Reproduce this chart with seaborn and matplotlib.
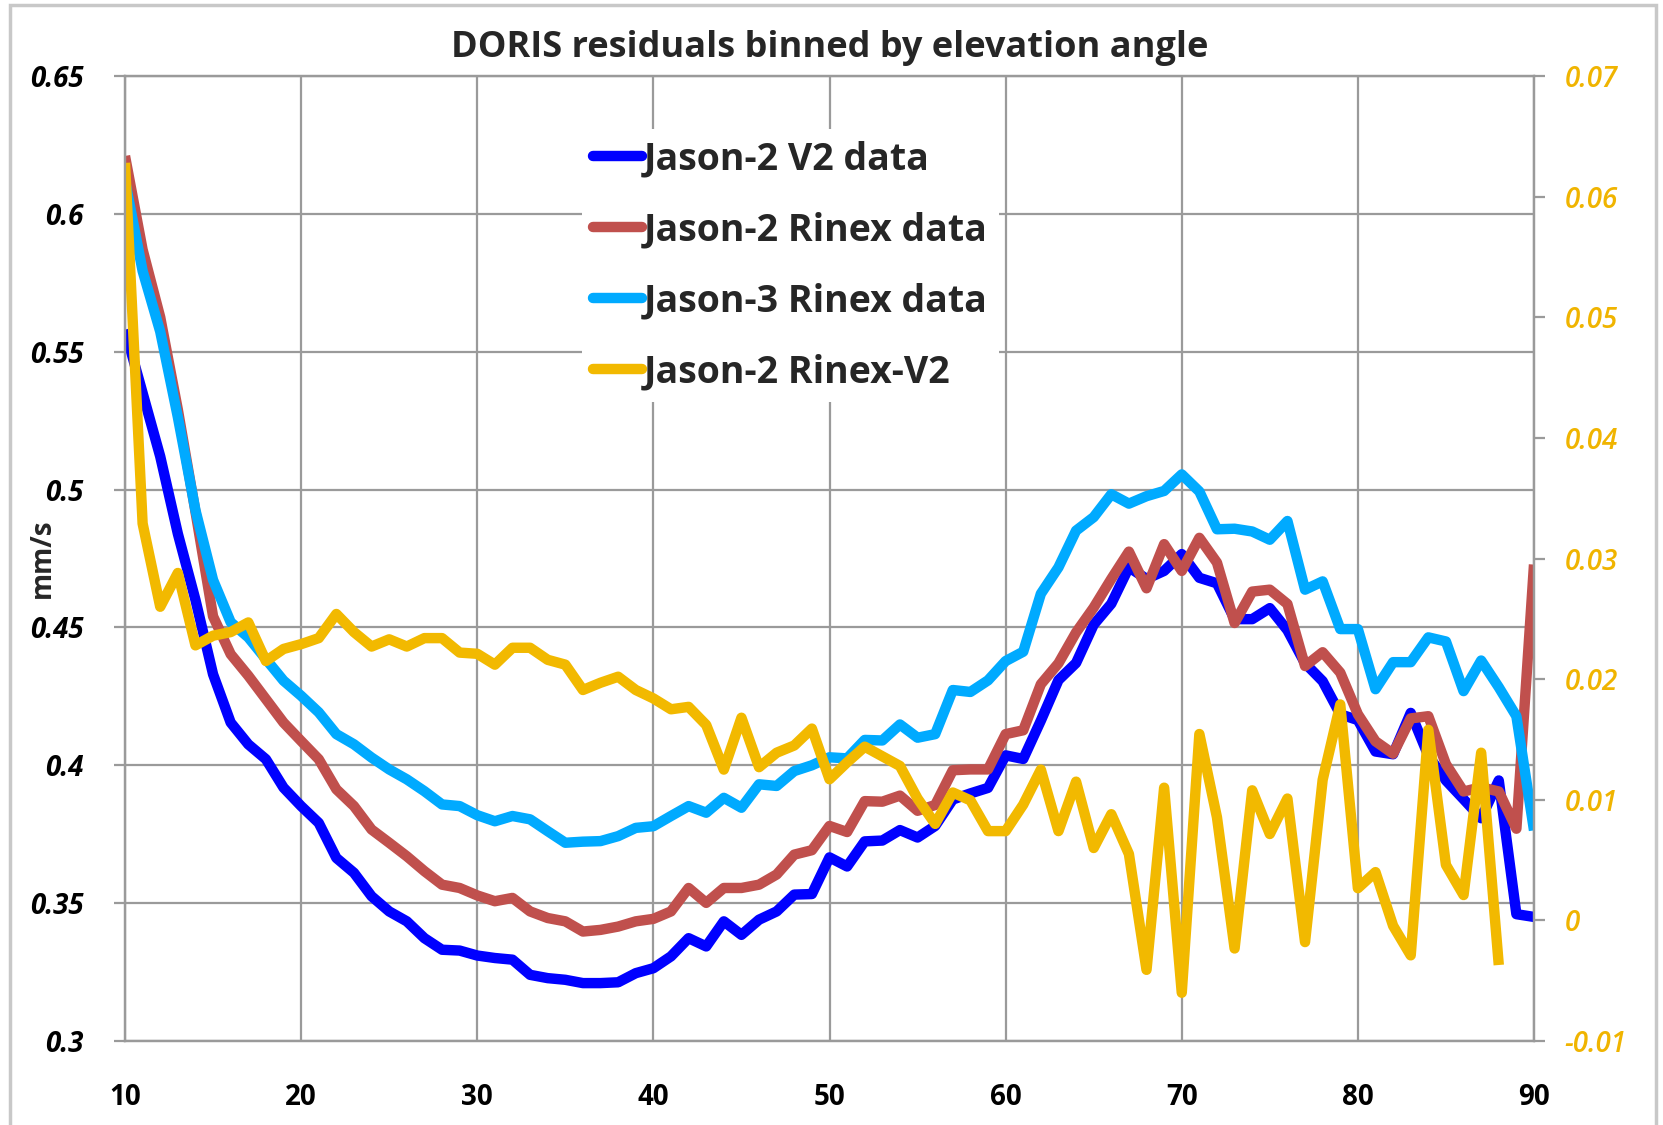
import numpy as np
import pandas as pd
import matplotlib
matplotlib.use("Agg")
import matplotlib.pyplot as plt
from matplotlib.patches import Rectangle
from matplotlib.lines import Line2D
import seaborn as sns

# ---------------- data ----------------
elev = list(range(10, 91))
elev_diff = list(range(10, 89))

j2_v2 = [0.558, 0.535, 0.512, 0.484, 0.460, 0.433, 0.4155, 0.4076, 0.4022, 0.3919,
         0.3852, 0.3791, 0.3664, 0.361, 0.3525, 0.347, 0.3434, 0.3373, 0.3331, 0.3328,
         0.331, 0.3301, 0.3295, 0.324, 0.3228, 0.3222, 0.321, 0.321, 0.3213, 0.3246,
         0.3264, 0.3307, 0.3373, 0.3343, 0.3434, 0.3385, 0.344, 0.347, 0.3531, 0.3533,
         0.3666, 0.3633, 0.3724, 0.3727, 0.3765, 0.3738, 0.378, 0.3876, 0.3898, 0.3918,
         0.4036, 0.4023, 0.4162, 0.4309, 0.4371, 0.451, 0.4586, 0.4718, 0.4676, 0.4705,
         0.4766, 0.468, 0.466, 0.453, 0.453, 0.457, 0.449, 0.437, 0.4305, 0.4185,
         0.4164, 0.405, 0.404, 0.419, 0.4035, 0.3945, 0.3877, 0.3808, 0.3945, 0.346,
         0.345]

j2_rinex = [0.621, 0.587, 0.5625, 0.529, 0.492, 0.454, 0.4403, 0.4325, 0.424, 0.4155,
            0.4088, 0.4022, 0.3913, 0.3852, 0.3767, 0.3719, 0.367, 0.3616, 0.3567, 0.3555,
            0.3528, 0.3507, 0.3519, 0.347, 0.3446, 0.3434, 0.3397, 0.3403, 0.3415, 0.3434,
            0.3443, 0.347, 0.3555, 0.3501, 0.3555, 0.3555, 0.3567, 0.3604, 0.3676, 0.3692,
            0.378, 0.3758, 0.387, 0.3868, 0.389, 0.3835, 0.3856, 0.3982, 0.3985, 0.3985,
            0.4113, 0.4127, 0.4294, 0.437, 0.4482, 0.4572, 0.4676, 0.4775, 0.4642, 0.4802,
            0.4705, 0.4825, 0.4735, 0.4516, 0.463, 0.4637, 0.4585, 0.436, 0.441, 0.4336,
            0.4185, 0.4087, 0.4042, 0.417, 0.4178, 0.4004, 0.3905, 0.392, 0.3905, 0.377,
            0.4728]

j3_rinex = [0.612, 0.5793, 0.5573, 0.5263, 0.4925, 0.4672, 0.4519, 0.4464, 0.4385, 0.4307,
            0.4252, 0.4192, 0.4113, 0.4076, 0.4028, 0.3985, 0.3949, 0.3906, 0.3858, 0.3852,
            0.3819, 0.3797, 0.3816, 0.3804, 0.3761, 0.3719, 0.3723, 0.3725, 0.3743, 0.3773,
            0.3779, 0.3816, 0.3852, 0.3828, 0.3882, 0.3846, 0.3931, 0.3925, 0.3979, 0.4,
            0.4029, 0.4025, 0.4092, 0.409, 0.4148, 0.41, 0.4113, 0.4273, 0.4266, 0.4308,
            0.4378, 0.4412, 0.4622, 0.4718, 0.4851, 0.49, 0.4983, 0.4949, 0.4976, 0.4995,
            0.5055, 0.4993, 0.4856, 0.4858, 0.4848, 0.4818, 0.4886, 0.4637, 0.4667, 0.4494,
            0.4494, 0.4276, 0.4374, 0.4374, 0.4464, 0.4449, 0.4269, 0.438, 0.4283, 0.4178,
            0.3764]

j2_rinex_minus_v2 = [0.0628, 0.0329, 0.026, 0.0288, 0.0228, 0.0236, 0.0239, 0.0247, 0.0215, 0.0225,
                     0.0229, 0.0234, 0.0254, 0.0239, 0.0227, 0.0233, 0.0227, 0.0234, 0.0234, 0.0222,
                     0.0221, 0.0212, 0.0226, 0.0226, 0.0216, 0.0212, 0.0191, 0.0197, 0.0202, 0.0191,
                     0.0184, 0.0175, 0.0177, 0.0162, 0.0125, 0.0168, 0.0127, 0.0139, 0.0145, 0.0159,
                     0.0117, 0.0131, 0.0144, 0.0136, 0.0128, 0.0101, 0.008, 0.0106, 0.00995, 0.0074,
                     0.0074, 0.0096, 0.0125, 0.0074, 0.0115, 0.006, 0.0088, 0.0055, -0.0041, 0.011,
                     -0.006, 0.01545, 0.00854, -0.00233, 0.01078, 0.00716, 0.0101, -0.0018, 0.01165, 0.0179,
                     0.00267, 0.004, -0.00045, -0.0029, 0.0158, 0.0046, 0.0021, 0.0139, -0.0037]

series_names = ["Jason-2 V2 data", "Jason-2 Rinex data", "Jason-3 Rinex data", "Jason-2 Rinex-V2"]
title = "DORIS residuals binned by elevation angle"
ylabel = "mm/s"
x_ticks = [10, 20, 30, 40, 50, 60, 70, 80, 90]
left_ticks = [0.3, 0.35, 0.4, 0.45, 0.5, 0.55, 0.6, 0.65]
left_tick_labels = ["0.3", "0.35", "0.4", "0.45", "0.5", "0.55", "0.6", "0.65"]
right_ticks = [-0.01, 0, 0.01, 0.02, 0.03, 0.04, 0.05, 0.06, 0.07]
right_tick_labels = ["-0.01", "0", "0.01", "0.02", "0.03", "0.04", "0.05", "0.06", "0.07"]

# ---------------- style ----------------
sns.set_style("white")
FONT = ["Open Sans", "DejaVu Sans"]
plt.rcParams["font.family"] = FONT

colors = ["#0000FF", "#C0504D", "#00AAFF", "#F2B900"]
right_label_color = "#F0B400"
grid_color = "#9a9a9a"
LW = 7.5

W, H = 1663, 1125
fig = plt.figure(figsize=(W / 100, H / 100), dpi=100)
ax = fig.add_axes([125 / W, 1 - 1041 / H, (1534 - 125) / W, (1041 - 76) / H])
ax2 = ax.twinx()

df = pd.DataFrame({"elev": elev, series_names[0]: j2_v2,
                   series_names[1]: j2_rinex, series_names[2]: j3_rinex})
df2 = pd.DataFrame({"elev": elev_diff, series_names[3]: j2_rinex_minus_v2})

for name, c in zip(series_names[:3], colors[:3]):
    sns.lineplot(data=df, x="elev", y=name, ax=ax, color=c, lw=LW,
                 solid_joinstyle="round", solid_capstyle="butt", legend=False)
sns.lineplot(data=df2, x="elev", y=series_names[3], ax=ax2, color=colors[3], lw=LW,
             solid_joinstyle="round", solid_capstyle="butt", legend=False)

ax.set_xlim(10, 90)
ax.set_ylim(0.3, 0.65)
ax2.set_ylim(-0.01, 0.07)

ax.set_xticks(x_ticks)
ax.set_xticklabels([str(t) for t in x_ticks], fontsize=20, fontweight="bold")
ax.set_yticks(left_ticks)
ax.set_yticklabels(left_tick_labels, fontsize=20, fontweight="bold", style="italic")
ax2.set_yticks(right_ticks)
ax2.set_yticklabels(right_tick_labels, fontsize=20, style="italic",
                    fontweight="semibold", color=right_label_color)

ax.grid(True, color=grid_color, lw=1.6)
ax.set_axisbelow(True)
for a in (ax, ax2):
    for s in a.spines.values():
        s.set_color(grid_color)
        s.set_linewidth(1.6)

ax.tick_params(axis="both", which="both", direction="out", length=8, width=1.6,
               color=grid_color, labelcolor="black")
ax.tick_params(axis="x", pad=22)
ax.tick_params(axis="y", pad=22)
ax2.tick_params(axis="y", direction="out", length=8, width=1.6, color=grid_color,
                labelcolor=right_label_color, pad=14)

ax.set_xlabel("")
ax.set_ylabel("")
ax2.set_ylabel("")
fig.text(42 / W, 1 - 558 / H, ylabel, rotation=90, ha="center", va="center",
         fontsize=20, fontweight="bold")

fig.text((125 + 1534) / 2 / W, 1 - 48 / H, title, ha="center", va="center",
         fontsize=26, fontweight="bold")

handles = [Line2D([0], [0], color=c, lw=LW, solid_capstyle="round") for c in colors]
leg = ax2.legend(handles, series_names, loc="upper left",
                 bbox_to_anchor=((563 - 125) / 1409, (1041 - 110) / 965),
                 frameon=True, fancybox=False, framealpha=1, facecolor="white",
                 edgecolor="none", handlelength=1.3, handletextpad=0.05,
                 labelspacing=0.88, borderpad=0.3,
                 prop={"family": FONT, "weight": "bold", "size": 27})

# figure border
fig.add_artist(Rectangle((10 / W, -0.02), (1656 - 10) / W, 1.02 - 5 / H,
                         transform=fig.transFigure, fill=False,
                         edgecolor="#c8c8c8", lw=2.5))

fig.savefig("out.png", dpi=100, facecolor="white")
